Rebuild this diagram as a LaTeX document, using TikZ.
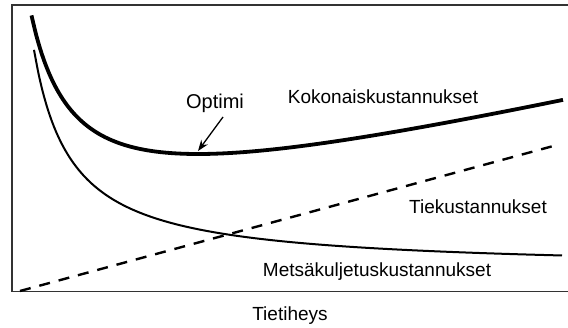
\documentclass[tikz,border=0pt]{standalone}
\usepackage{fontspec}
\setmainfont{Liberation Sans}
\usetikzlibrary{arrows.meta}
\begin{document}
\begin{tikzpicture}[x=1pt,y=-1pt,
  lbl/.style={font=\fontsize{19}{21}\selectfont, inner sep=0pt, text=black},
  frame/.style={line width=1.2pt, draw=black!80},
  totalcurve/.style={line width=3.8pt},
  haulcurve/.style={line width=2pt},
  roadline/.style={line width=2.4pt, dash pattern=on 11pt off 9pt},
  pointer/.style={line width=1.3pt, -{Stealth[length=11pt,width=8pt]}}]
\useasboundingbox (0,0) rectangle (568,328);
% frame
\coordinate (tr) at (568,5);
\coordinate (tl) at (12,5);
\coordinate (bl) at (12,291.7);
\coordinate (br) at (568,291.7);
\draw[frame] (tr) -- (tl) -- (bl) -- (br);
% road cost (dashed)
\coordinate (r0) at (20,291);
\coordinate (r1) at (557,145);
\draw[roadline] (r0) -- (r1);
% forest haulage cost
\draw[haulcurve] plot[domain=34:562, samples=120, smooth] (\x, {270-8204/(\x+3.27)});
% total cost
\draw[totalcurve] plot[domain=31.5:563, samples=120, smooth] (\x, {250.7-0.235*\x-10710/(\x+15.5)});
% labels
\node[lbl, font=\fontsize{20}{22}\selectfont] (opt) at (215,103) {Optimi};
\coordinate (optpt) at (198,151);
\draw[pointer] (223,117) -- (optpt);
\node[lbl] (total) at (383,97) {Kokonaiskustannukset};
\node[lbl] (road) at (478,207) {Tiekustannukset};
\node[lbl] (haul) at (377,272) {Metsäkuljetuskustannukset};
\node[lbl] (xaxis) at (290,316) {Tietiheys};
\end{tikzpicture}
\end{document}
